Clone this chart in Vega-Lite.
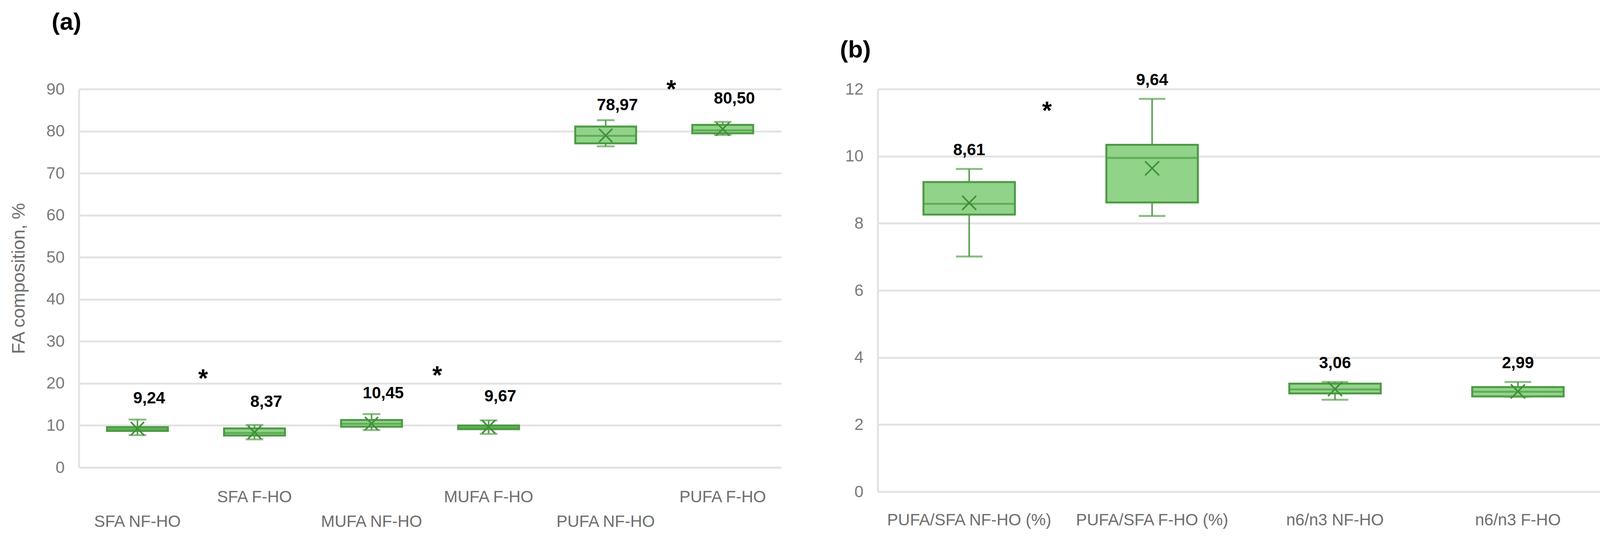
{
  "$schema": "https://vega.github.io/schema/vega-lite/v6.json",
  "background": "white",
  "padding": {"left": 24, "top": 26, "right": 0, "bottom": 0},
  "config": {
    "font": "Liberation Sans",
    "view": {"stroke": null},
    "axis": {"labelFont": "Liberation Sans", "titleFont": "Liberation Sans"}
  },
  "spacing": 247,
  "bounds": "flush",
  "hconcat": [
    {
      "width": 1798,
      "height": 968,
      "title": {"text": "(a)", "anchor": "start", "frame": "bounds", "fontSize": 62, "fontWeight": "bold", "color": "black", "offset": 110, "dx": 108},
      "data": {"values": [
        {"group": "SFA NF-HO", "min": 7.7, "q1": 8.7, "median": 9.1, "q3": 9.6, "max": 11.4, "mean": 9.24, "label": "9,24"},
        {"group": "SFA F-HO", "min": 6.7, "q1": 7.6, "median": 8.2, "q3": 9.3, "max": 10.1, "mean": 8.37, "label": "8,37"},
        {"group": "MUFA NF-HO", "min": 8.9, "q1": 9.7, "median": 10.4, "q3": 11.3, "max": 12.7, "mean": 10.45, "label": "10,45"},
        {"group": "MUFA F-HO", "min": 8.0, "q1": 9.1, "median": 9.5, "q3": 10.0, "max": 11.2, "mean": 9.67, "label": "9,67"},
        {"group": "PUFA NF-HO", "min": 76.4, "q1": 77.1, "median": 78.9, "q3": 81.1, "max": 82.6, "mean": 78.97, "label": "78,97"},
        {"group": "PUFA  F-HO", "min": 79.1, "q1": 79.5, "median": 80.2, "q3": 81.5, "max": 82.2, "mean": 80.5, "label": "80,50"}
      ]},
      "encoding": {
        "x": {
          "field": "group", "type": "nominal",
          "scale": {"domain": ["SFA NF-HO", "SFA F-HO", "MUFA NF-HO", "MUFA F-HO", "PUFA NF-HO", "PUFA  F-HO"], "paddingInner": 0, "paddingOuter": 0},
          "axis": {
            "title": null, "domain": false, "ticks": false, "grid": false,
            "labelAngle": 0, "labelFontSize": 42, "labelColor": "#6e6e6e", "labelPadding": 55, "labelLineHeight": 63, "labelLimit": 0,
            "labelExpr": "indexof(datum.label, 'NF-HO') >= 0 ? ['', datum.label] : datum.label"
          }
        }
      },
      "layer": [
        {
          "mark": {"type": "rule", "color": "#5a9e50", "strokeWidth": 4},
          "encoding": {
            "y": {
              "field": "min", "type": "quantitative", "title": "FA composition, %",
              "scale": {"domain": [0, 90], "nice": false},
              "axis": {
                "values": [0, 10, 20, 30, 40, 50, 60, 70, 80, 90], "format": "d",
                "grid": true, "gridColor": "#e3e3e3", "gridWidth": 5,
                "domain": true, "domainColor": "#e3e3e3", "domainWidth": 5,
                "ticks": false, "labelPadding": 37, "labelFontSize": 42, "labelColor": "#7a7a7a",
                "titleFontSize": 47, "titleFontWeight": "normal", "titleColor": "#6e6e6e", "titlePadding": 46
              }
            },
            "y2": {"field": "max"}
          }
        },
        {
          "mark": {"type": "bar", "fill": "#92d38a", "stroke": "#4b9b43", "strokeWidth": 5, "width": {"band": 0.52}},
          "encoding": {"y": {"field": "q1", "type": "quantitative"}, "y2": {"field": "q3"}}
        },
        {
          "mark": {"type": "tick", "color": "#4b9b43", "size": 155, "thickness": 5},
          "encoding": {"y": {"field": "median", "type": "quantitative"}}
        },
        {
          "mark": {"type": "tick", "color": "#5a9e50", "size": 45, "thickness": 5},
          "encoding": {"y": {"field": "min", "type": "quantitative"}}
        },
        {
          "mark": {"type": "tick", "color": "#5a9e50", "size": 45, "thickness": 5},
          "encoding": {"y": {"field": "max", "type": "quantitative"}}
        },
        {
          "mark": {"type": "point", "shape": "M-1,-1L1,1M-1,1L1,-1", "filled": false, "stroke": "#3f8f37", "strokeWidth": 4, "size": 1156, "opacity": 1},
          "encoding": {"y": {"field": "mean", "type": "quantitative"}}
        },
        {
          "mark": {"type": "text", "fontSize": 42, "fontWeight": "bold", "color": "black", "dx": 30, "dy": -78, "baseline": "middle"},
          "encoding": {"y": {"field": "mean", "type": "quantitative"}, "text": {"field": "label"}}
        },
        {
          "data": {"values": [
            {"group": "SFA NF-HO", "y": 22.2, "sym": "*"},
            {"group": "MUFA NF-HO", "y": 23.0, "sym": "*"},
            {"group": "PUFA NF-HO", "y": 91.0, "sym": "*"}
          ]},
          "mark": {"type": "text", "fontSize": 64, "fontWeight": "bold", "color": "black", "dx": 168, "dy": 14, "baseline": "middle"},
          "encoding": {"y": {"field": "y", "type": "quantitative"}, "text": {"field": "sym"}}
        }
      ]
    },
    {
      "width": 1873,
      "height": 1030,
      "title": {"text": "(b)", "anchor": "start", "frame": "bounds", "fontSize": 62, "fontWeight": "bold", "color": "black", "offset": 24, "dx": -13},
      "data": {"values": [
        {"group": "PUFA/SFA NF-HO (%)", "min": 7.01, "q1": 8.26, "median": 8.58, "q3": 9.23, "max": 9.62, "mean": 8.61, "label": "8,61"},
        {"group": "PUFA/SFA F-HO (%)", "min": 8.22, "q1": 8.62, "median": 9.95, "q3": 10.34, "max": 11.71, "mean": 9.64, "label": "9,64"},
        {"group": "n6/n3 NF-HO", "min": 2.74, "q1": 2.93, "median": 3.05, "q3": 3.22, "max": 3.27, "mean": 3.06, "label": "3,06"},
        {"group": "n6/n3 F-HO", "min": 2.83, "q1": 2.84, "median": 2.98, "q3": 3.12, "max": 3.27, "mean": 2.99, "label": "2,99"}
      ]},
      "encoding": {
        "x": {
          "field": "group", "type": "nominal",
          "scale": {"domain": ["PUFA/SFA NF-HO (%)", "PUFA/SFA F-HO (%)", "n6/n3 NF-HO", "n6/n3 F-HO"], "paddingInner": 0, "paddingOuter": 0},
          "axis": {
            "title": null, "domain": false, "ticks": false, "grid": false,
            "labelAngle": 0, "labelFontSize": 42, "labelColor": "#6e6e6e", "labelPadding": 52, "labelLimit": 0
          }
        }
      },
      "layer": [
        {
          "mark": {"type": "rule", "color": "#5a9e50", "strokeWidth": 4},
          "encoding": {
            "y": {
              "field": "min", "type": "quantitative", "title": null,
              "scale": {"domain": [0, 12], "nice": false},
              "axis": {
                "values": [0, 2, 4, 6, 8, 10, 12], "format": "d",
                "grid": true, "gridColor": "#e3e3e3", "gridWidth": 5,
                "domain": true, "domainColor": "#e3e3e3", "domainWidth": 5,
                "ticks": false, "labelPadding": 37, "labelFontSize": 42, "labelColor": "#7a7a7a"
              }
            },
            "y2": {"field": "max"}
          }
        },
        {
          "mark": {"type": "bar", "fill": "#92d38a", "stroke": "#4b9b43", "strokeWidth": 5, "width": {"band": 0.5}},
          "encoding": {"y": {"field": "q1", "type": "quantitative"}, "y2": {"field": "q3"}}
        },
        {
          "mark": {"type": "tick", "color": "#4b9b43", "size": 234, "thickness": 5},
          "encoding": {"y": {"field": "median", "type": "quantitative"}}
        },
        {
          "mark": {"type": "tick", "color": "#5a9e50", "size": 68, "thickness": 5},
          "encoding": {"y": {"field": "min", "type": "quantitative"}}
        },
        {
          "mark": {"type": "tick", "color": "#5a9e50", "size": 68, "thickness": 5},
          "encoding": {"y": {"field": "max", "type": "quantitative"}}
        },
        {
          "mark": {"type": "point", "shape": "M-1,-1L1,1M-1,1L1,-1", "filled": false, "stroke": "#3f8f37", "strokeWidth": 4, "size": 1296, "opacity": 1},
          "encoding": {"y": {"field": "mean", "type": "quantitative"}}
        },
        {
          "mark": {"type": "text", "fontSize": 42, "fontWeight": "bold", "color": "black", "dx": 0, "dy": -48, "baseline": "middle"},
          "encoding": {"y": {"field": "max", "type": "quantitative"}, "text": {"field": "label"}}
        },
        {
          "data": {"values": [
            {"group": "PUFA/SFA NF-HO (%)", "y": 11.49, "sym": "*"}
          ]},
          "mark": {"type": "text", "fontSize": 64, "fontWeight": "bold", "color": "black", "dx": 199, "dy": 14, "baseline": "middle"},
          "encoding": {"y": {"field": "y", "type": "quantitative"}, "text": {"field": "sym"}}
        }
      ]
    }
  ]
}
